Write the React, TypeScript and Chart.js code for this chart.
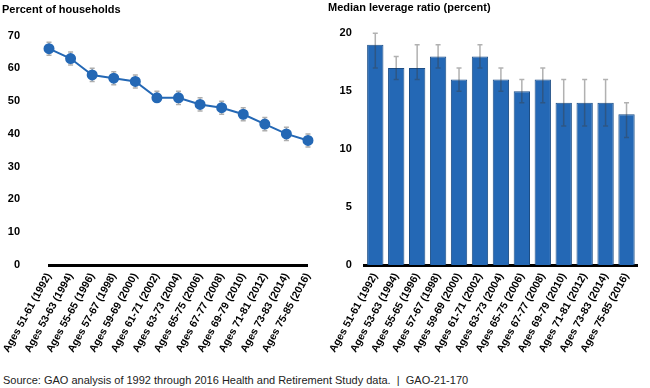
import React, { useEffect, useRef } from "react";
import { Chart, registerables } from "chart.js";

Chart.register(...registerables);

const categories = [
  "Ages 51-61 (1992)",
  "Ages 53-63 (1994)",
  "Ages 55-65 (1996)",
  "Ages 57-67 (1998)",
  "Ages 59-69 (2000)",
  "Ages 61-71 (2002)",
  "Ages 63-73 (2004)",
  "Ages 65-75 (2006)",
  "Ages 67-77 (2008)",
  "Ages 69-79 (2010)",
  "Ages 71-81 (2012)",
  "Ages 73-83 (2014)",
  "Ages 75-85 (2016)",
];

const householdPct = [66, 63, 58, 57, 56, 51, 51, 49, 48, 46, 43, 40, 38];
const householdLow = [64, 61, 56, 55, 54, 50, 49, 47, 46, 44, 41, 38, 36];
const householdHigh = [68, 65, 60, 59, 58, 53, 53, 51, 50, 48, 45, 42, 40];

const leverage = [19, 17, 17, 18, 16, 18, 16, 15, 16, 14, 14, 14, 13];
const leverageLow = [17, 16, 16, 17, 15, 17, 15, 14, 14, 12, 12, 12, 11];
const leverageHigh = [20, 18, 19, 19, 17, 19, 17, 16, 17, 16, 16, 16, 14];

const leftTicks = [0, 10, 20, 30, 40, 50, 60, 70];
const rightTicks = [0, 5, 10, 15, 20];

const FONT = "'Liberation Sans', Arial, sans-serif";
const BLUE = "#2468B5";

const errorBarPlugin = {
  id: "errBars",
  drawBars(chart: any, opts: any) {
    if (!opts || !opts.low) return;
    const ctx = chart.ctx;
    const meta = chart.getDatasetMeta(0);
    const yScale = chart.scales.y;
    ctx.save();
    ctx.strokeStyle = opts.color || "rgba(60,60,60,0.4)";
    ctx.lineWidth = 1.5;
    meta.data.forEach((el: any, i: number) => {
      const x = el.x;
      const yl = yScale.getPixelForValue(opts.low[i]);
      const yh = yScale.getPixelForValue(opts.high[i]);
      const cap = 2.5;
      ctx.beginPath();
      ctx.moveTo(x, yl);
      ctx.lineTo(x, yh);
      ctx.moveTo(x - cap, yl);
      ctx.lineTo(x + cap, yl);
      ctx.moveTo(x - cap, yh);
      ctx.lineTo(x + cap, yh);
      ctx.stroke();
    });
    ctx.restore();
  },
  beforeDatasetsDraw(chart: any, _args: any, opts: any) {
    if (opts && opts.under) (errorBarPlugin as any).drawBars(chart, opts);
  },
  afterDatasetsDraw(chart: any, _args: any, opts: any) {
    if (opts && !opts.under) (errorBarPlugin as any).drawBars(chart, opts);
  },
};

const CANVAS_H = 362;
const AREA_BOTTOM = 265;

function makeXScale() {
  return {
    grid: { display: false, drawTicks: false },
    border: { display: true, color: "#000", width: 3 },
    ticks: {
      autoSkip: false,
      minRotation: 61,
      maxRotation: 61,
      padding: 6,
      color: "#000",
      font: { family: FONT, size: 10.5, weight: "bold" },
    },
    afterFit(scale: any) {
      scale.height = CANVAS_H - AREA_BOTTOM;
    },
  };
}

function LeftChart() {
  const ref = useRef<HTMLCanvasElement>(null);
  useEffect(() => {
    const chart = new Chart(ref.current!, {
      type: "line",
      data: {
        labels: categories,
        datasets: [
          {
            data: householdPct,
            borderColor: BLUE,
            backgroundColor: BLUE,
            borderWidth: 2,
            pointRadius: 4.5,
            pointBackgroundColor: BLUE,
            pointBorderColor: BLUE,
            tension: 0,
          },
        ],
      },
      plugins: [errorBarPlugin as any],
      options: {
        animation: false,
        responsive: false,
        devicePixelRatio: 1,
        layout: { padding: { left: 2, right: 13, top: 0, bottom: 0 } },
        plugins: {
          legend: { display: false },
          tooltip: { enabled: false },
          title: {
            display: true,
            text: "Percent of households",
            align: "start",
            color: "#000",
            font: { family: FONT, size: 11, weight: "bold" },
            padding: { top: 1, bottom: 19 },
          },
          errBars: { low: householdLow, high: householdHigh, under: true, color: "rgba(120,120,120,0.6)" },
        } as any,
        scales: {
          x: makeXScale() as any,
          y: {
            min: 0,
            max: 70,
            afterBuildTicks(scale: any) {
              scale.ticks = leftTicks.map((v) => ({ value: v }));
            },
            grid: { display: false, drawTicks: false },
            border: { display: false },
            ticks: {
              padding: 29,
              color: "#000",
              font: { family: FONT, size: 11, weight: "bold" },
            },
            afterFit(scale: any) {
              scale.width = 42;
            },
          },
        },
      },
    });
    return () => chart.destroy();
  }, []);
  return <canvas ref={ref} width={325} height={CANVAS_H} style={{ position: "absolute", left: 0, top: 0 }} />;
}

function RightChart() {
  const ref = useRef<HTMLCanvasElement>(null);
  useEffect(() => {
    const chart = new Chart(ref.current!, {
      type: "bar",
      data: {
        labels: categories,
        datasets: [
          {
            data: leverage,
            backgroundColor: BLUE,
            borderColor: "#1c4d85",
            borderWidth: 1,
            barPercentage: 0.78,
            categoryPercentage: 1,
          },
        ],
      },
      plugins: [errorBarPlugin as any],
      options: {
        animation: false,
        responsive: false,
        devicePixelRatio: 1,
        layout: { padding: { left: 3, right: 13, top: 0, bottom: 0 } },
        plugins: {
          legend: { display: false },
          tooltip: { enabled: false },
          title: {
            display: true,
            text: "Median leverage ratio (percent)",
            align: "start",
            color: "#000",
            font: { family: FONT, size: 11, weight: "bold" },
            padding: { top: 1, bottom: 19 },
          },
          errBars: { low: leverageLow, high: leverageHigh, under: false, color: "rgba(60,60,60,0.4)" },
        } as any,
        scales: {
          x: makeXScale() as any,
          y: {
            min: 0,
            max: 20,
            afterBuildTicks(scale: any) {
              scale.ticks = rightTicks.map((v) => ({ value: v }));
            },
            grid: { display: false, drawTicks: false },
            border: { display: false },
            ticks: {
              padding: 13,
              color: "#000",
              font: { family: FONT, size: 11, weight: "bold" },
            },
            afterFit(scale: any) {
              scale.width = 30;
            },
          },
        },
      },
    });
    return () => chart.destroy();
  }, []);
  return <canvas ref={ref} width={325} height={CANVAS_H} style={{ position: "absolute", left: 325, top: 0 }} />;
}

export default function App() {
  return (
    <div style={{ position: "fixed", left: 0, top: 0, width: 650, height: 388, background: "#fff", overflow: "hidden" }}>
      <LeftChart />
      <RightChart />
      <div
        style={{
          position: "absolute",
          left: 3,
          top: 373,
          fontFamily: FONT,
          fontSize: 11,
          color: "#222",
          whiteSpace: "pre",
          lineHeight: "14px",
        }}
      >
        {"Source: GAO analysis of 1992 through 2016 Health and Retirement Study data.  |  GAO-21-170"}
      </div>
    </div>
  );
}
